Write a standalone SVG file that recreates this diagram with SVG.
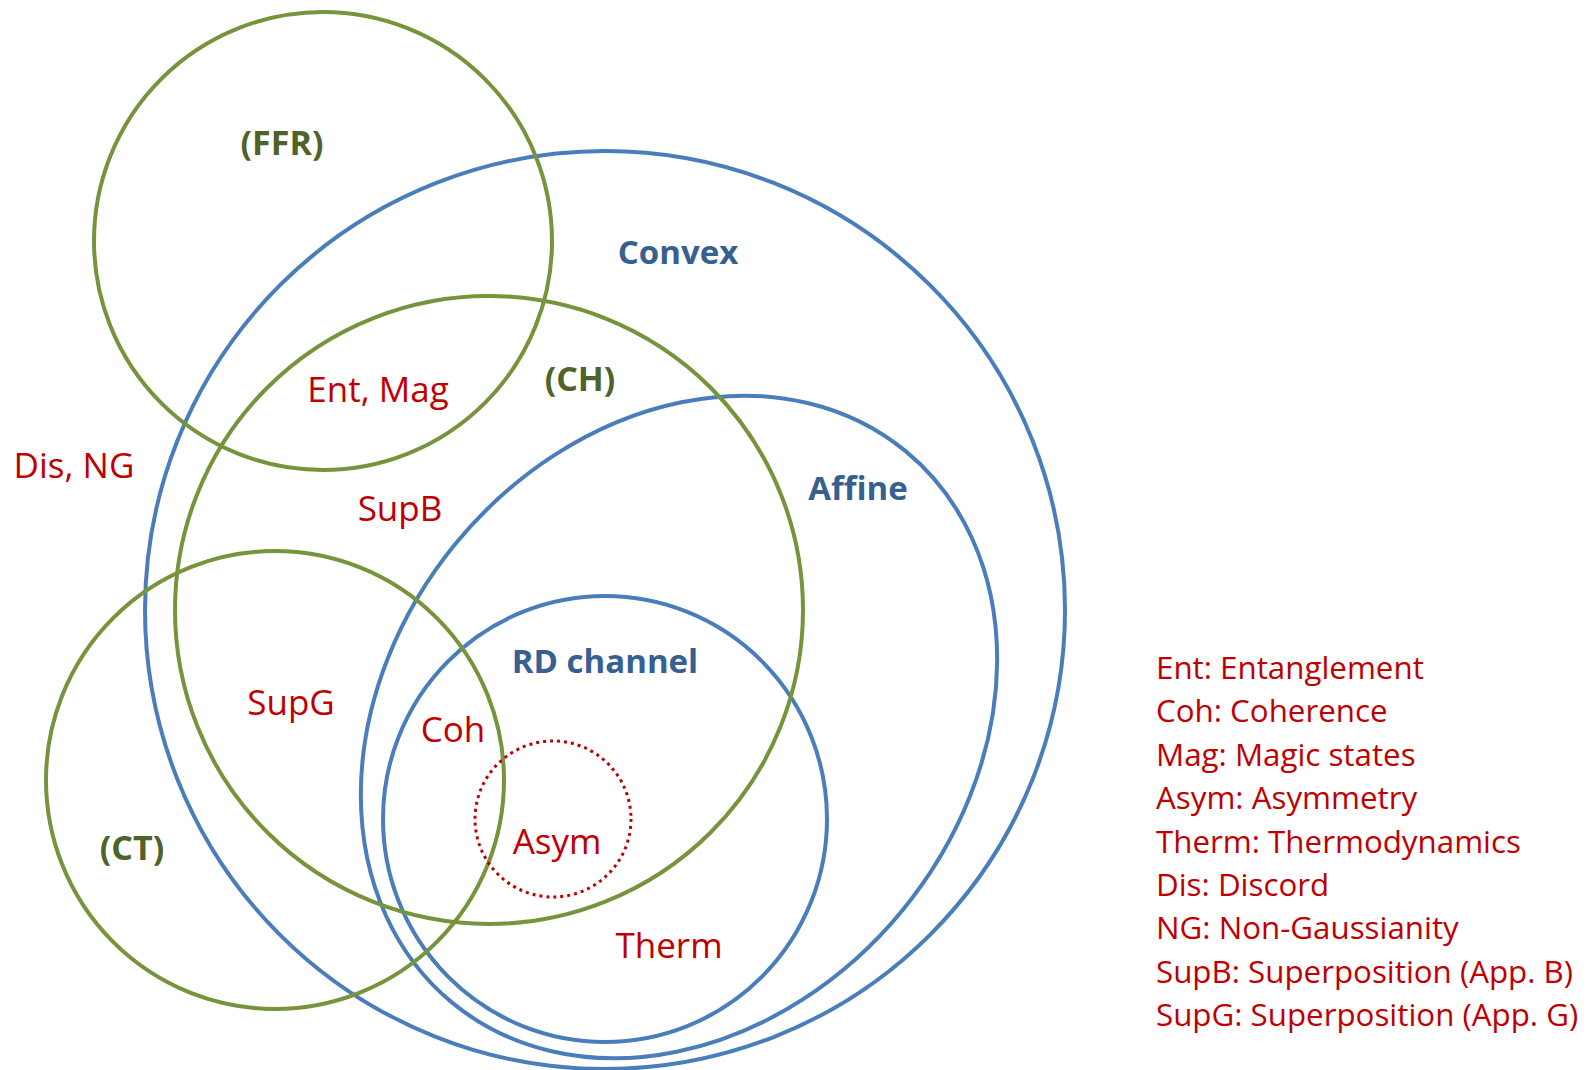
<svg xmlns="http://www.w3.org/2000/svg" width="1594" height="1070" viewBox="0 0 1594 1070">
<style>
.g{fill:none;stroke:#77933C;stroke-width:4}
.b{fill:none;stroke:#4A7EBB;stroke-width:4}
.d{fill:none;stroke:#C00000;stroke-width:3;stroke-dasharray:3 4}
.tg{font-family:"Open Sans","Liberation Sans",sans-serif;font-weight:bold;font-size:34px;fill:#4F6228;text-anchor:middle}
.tb{font-family:"Open Sans","Liberation Sans",sans-serif;font-weight:bold;font-size:33px;fill:#376092;text-anchor:middle}
.tr{font-family:"Open Sans","Liberation Sans",sans-serif;font-size:35px;fill:#C00000;text-anchor:middle}
.tl{font-family:"Open Sans","Liberation Sans",sans-serif;font-size:31.3px;fill:#C00000}
</style>
<rect width="1594" height="1070" fill="#ffffff"/>
<g id="convex"><ellipse class="b" cx="605" cy="610" rx="460" ry="459"/><text class="tb" x="678" y="264">Convex</text></g>
<g id="affine"><ellipse class="b" cx="679" cy="727" rx="357" ry="289" transform="rotate(-50.6 679 727)"/><text class="tb" x="858" y="500">Affine</text></g>
<g id="rd"><ellipse class="b" cx="605" cy="819" rx="222" ry="223"/><text class="tb" x="605" y="673">RD channel</text></g>
<g id="ffr"><circle class="g" cx="323" cy="241" r="229"/><text class="tg" x="282" y="155">(FFR)</text></g>
<g id="ch"><circle class="g" cx="489" cy="610" r="314"/><text class="tg" x="580" y="391">(CH)</text></g>
<g id="ct"><circle class="g" cx="275" cy="780" r="229"/><text class="tg" x="132" y="860">(CT)</text></g>
<g id="asym"><circle class="d" cx="553" cy="819" r="78"/><text class="tr" x="557" y="854">Asym</text></g>
<g id="labels">
<text class="tr" x="378" y="402">Ent, Mag</text>
<text class="tr" x="74" y="478">Dis, NG</text>
<text class="tr" x="400" y="521">SupB</text>
<text class="tr" x="291" y="715">SupG</text>
<text class="tr" x="453" y="742">Coh</text>
<text class="tr" x="669" y="958">Therm</text>
</g>
<g id="legend">
<text class="tl" x="1156" y="679">Ent: Entanglement</text>
<text class="tl" x="1156" y="722.4">Coh: Coherence</text>
<text class="tl" x="1156" y="765.8">Mag: Magic states</text>
<text class="tl" x="1156" y="809.2">Asym: Asymmetry</text>
<text class="tl" x="1156" y="852.6">Therm: Thermodynamics</text>
<text class="tl" x="1156" y="896">Dis: Discord</text>
<text class="tl" x="1156" y="939.4">NG: Non-Gaussianity</text>
<text class="tl" x="1156" y="982.8">SupB: Superposition (App. B)</text>
<text class="tl" x="1156" y="1026.2">SupG: Superposition (App. G)</text>
</g>
<g id="connectors"/>
</svg>
